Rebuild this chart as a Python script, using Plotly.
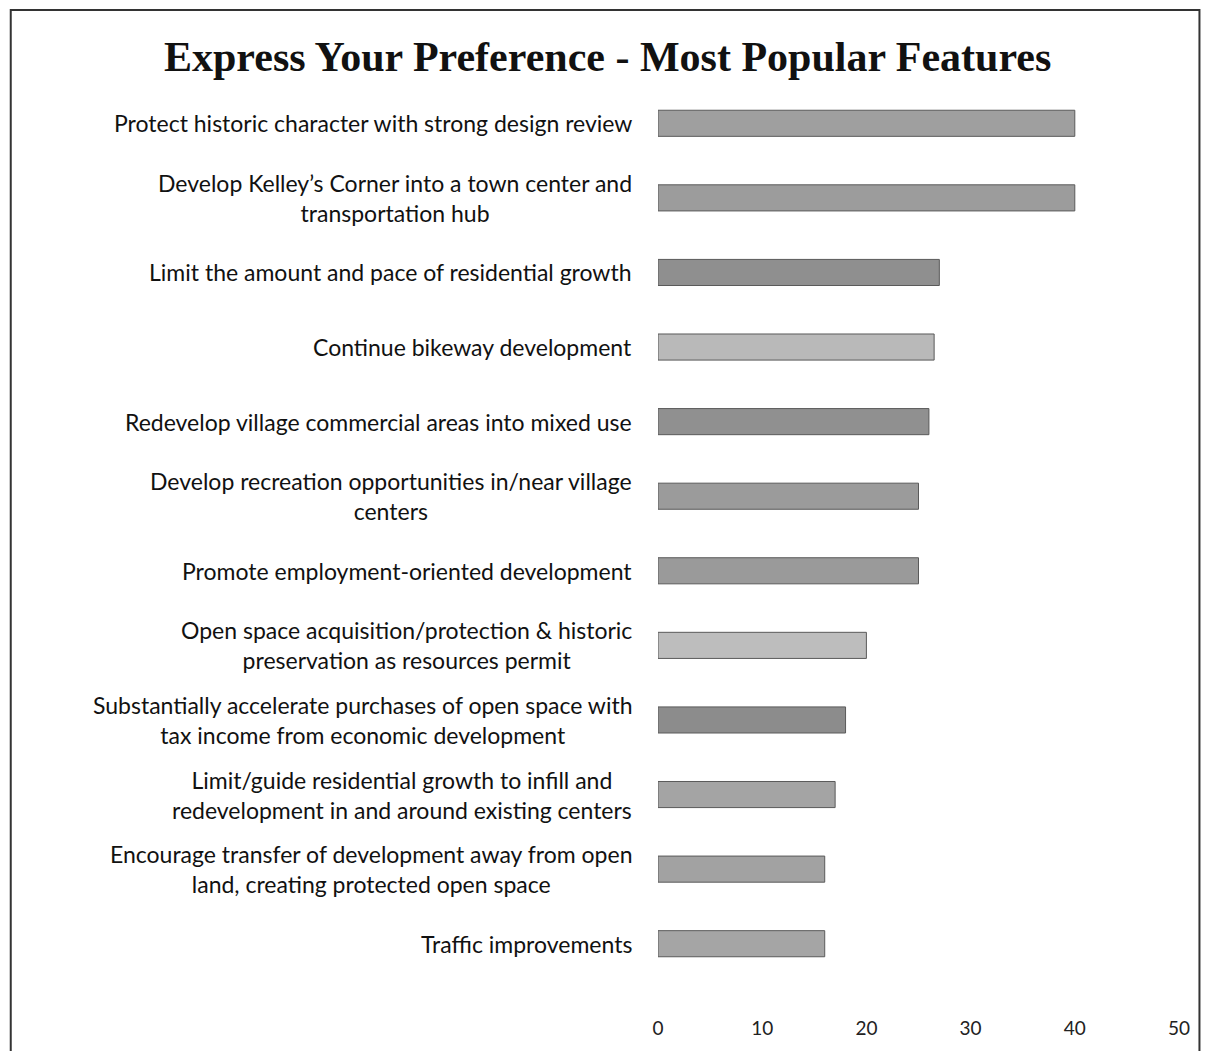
import plotly.graph_objects as go

categories = [
    "Protect historic character with strong design review",
    "Develop Kelley’s Corner into a town center and<br>transportation hub",
    "Limit the amount and pace of residential growth",
    "Continue bikeway development",
    "Redevelop village commercial areas into mixed use",
    "Develop recreation opportunities in/near village<br>centers",
    "Promote employment-oriented development",
    "Open space acquisition/protection & historic<br>preservation as resources permit",
    "Substantially accelerate purchases of open space with<br>tax income from economic development",
    "Limit/guide residential growth to infill and<br>redevelopment in and around existing centers",
    "Encourage transfer of development away from open<br>land, creating protected open space",
    "Traffic improvements",
]
values = [40, 40, 27, 26.5, 26, 25, 25, 20, 18, 17, 16, 16]
bar_colors = ["#9f9f9f", "#9c9c9c", "#8f8f8f", "#b9b9b9", "#909090", "#9b9b9b",
              "#9a9a9a", "#bdbdbd", "#8c8c8c", "#a4a4a4", "#a2a2a2", "#a5a5a5"]
x_ticks = [0, 10, 20, 30, 40, 50]

# page body has an 8px margin on every side; size the figure to fit inside it
OFF = 8
W, H = 1210 - 2 * OFF, 1059 - 2 * OFF
L = 658 - OFF
R = W - (1180 - OFF)
T = 86 - OFF
B = H - (986 - OFF)
pw, ph = W - L - R, H - T - B

def px(x):
    return (x - OFF - L) / pw

def py(y):
    return 1 - (y - OFF - T) / ph

fig = go.Figure()
fig.add_trace(go.Bar(
    y=list(range(len(categories))),
    x=values,
    orientation="h",
    width=0.35,
    marker=dict(color=bar_colors, line=dict(color="#5a5a5a", width=1)),
    hoverinfo="x",
))

annotations = []
for i, c in enumerate(categories):
    annotations.append(dict(
        x=0, y=i, xref="x", yref="y", text=c, showarrow=False,
        xanchor="right", yanchor="middle", align="center", xshift=-24,
        font=dict(family="Lato", size=23, color="#111111"),
    ))
annotations.append(dict(
    x=px(607), y=py(57), xref="paper", yref="paper",
    text="<b>Express Your Preference - Most Popular Features</b>",
    showarrow=False, xanchor="center", yanchor="middle",
    font=dict(family="Liberation Serif", size=42, color="#111111"),
))

fig.update_layout(
    width=W, height=H,
    margin=dict(l=L, r=R, t=T, b=B, pad=0),
    paper_bgcolor="white", plot_bgcolor="white",
    showlegend=False,
    bargap=0.65,
    annotations=annotations,
    shapes=[dict(type="rect", xref="paper", yref="paper",
                 x0=px(OFF + 1.5), x1=px(OFF + W - 1.5),
                 y0=py(1100), y1=py(OFF + 1.5),
                 line=dict(color="#333333", width=2))],
    xaxis=dict(range=[0, 50], tickvals=x_ticks, showgrid=False, zeroline=False,
               showline=False, ticks="", ticklabelstandoff=34,
               tickfont=dict(family="Lato", size=19, color="#222222")),
    yaxis=dict(range=[len(categories) - 0.5, -0.5], showticklabels=False,
               showgrid=False, zeroline=False, showline=False, ticks=""),
)

fig.write_html("out.html")
